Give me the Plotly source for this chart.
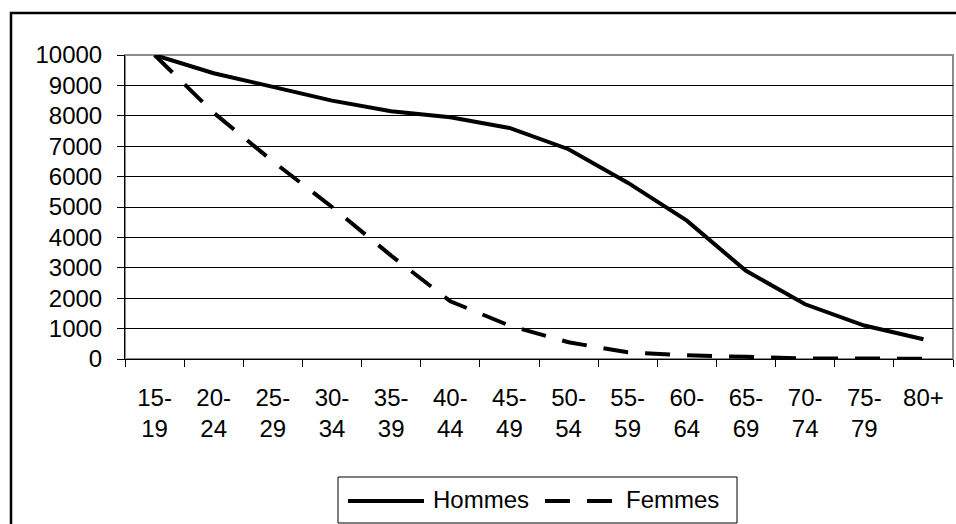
import plotly.graph_objects as go

# ---- data ----
categories = ["15-<br>19", "20-<br>24", "25-<br>29", "30-<br>34", "35-<br>39", "40-<br>44",
              "45-<br>49", "50-<br>54", "55-<br>59", "60-<br>64", "65-<br>69", "70-<br>74",
              "75-<br>79", "80+"]
hommes = [10000, 9400, 8950, 8500, 8150, 7950, 7600, 6900, 5800, 4550, 2900, 1800, 1100, 650]
femmes = [10000, 8100, 6500, 5000, 3400, 1900, 1100, 550, 220, 120, 70, 20, 15, 10]
series_names = ["Hommes", "Femmes"]
y_ticks = list(range(0, 10001, 1000))

# ---- layout constants (pixels) ----
W, H = 956, 524
L, R, T, B = 125, 3, 55, 165
PW, PH = W - L - R, H - T - B
FONT = "Liberation Sans, Arial, sans-serif"
FS = 24
DASH = "25px,17px"


def px(x):
    return (x - L) / PW


def py(y):
    return (H - B - y) / PH


fig = go.Figure()
fig.add_trace(go.Scatter(x=categories, y=hommes, name=series_names[0], mode="lines",
                         line=dict(color="black", width=4)))
fig.add_trace(go.Scatter(x=categories, y=femmes, name=series_names[1], mode="lines",
                         line=dict(color="black", width=4, dash=DASH)))

shapes = [
    # outer chart frame
    dict(type="rect", xref="paper", yref="paper", x0=px(11), x1=px(975), y0=py(545), y1=py(13),
         line=dict(color="black", width=2.5), fillcolor="rgba(0,0,0,0)", layer="below"),
    # plot area border (gray)
    dict(type="rect", xref="paper", yref="paper", x0=0, x1=1, y0=0, y1=1,
         line=dict(color="#8c8c8c", width=2), fillcolor="rgba(0,0,0,0)", layer="between"),
    # legend box
    dict(type="rect", xref="paper", yref="paper", x0=px(338), x1=px(737), y0=py(523), y1=py(477),
         line=dict(color="black", width=1), fillcolor="white", layer="above"),
    # legend samples
    dict(type="line", xref="paper", yref="paper", x0=px(348), x1=px(424), y0=py(501), y1=py(501),
         line=dict(color="black", width=4)),
    dict(type="line", xref="paper", yref="paper", x0=px(545), x1=px(617), y0=py(501), y1=py(501),
         line=dict(color="black", width=4, dash=DASH)),
]

annotations = [
    dict(xref="paper", yref="paper", x=px(431), y=py(499), text=series_names[0], showarrow=False,
         xanchor="left", yanchor="middle", font=dict(family=FONT, size=FS, color="black")),
    dict(xref="paper", yref="paper", x=px(624), y=py(499), text=series_names[1], showarrow=False,
         xanchor="left", yanchor="middle", font=dict(family=FONT, size=FS, color="black")),
]

fig.update_layout(
    width=W, height=H,
    margin=dict(l=L, r=R, t=T, b=B, pad=0),
    paper_bgcolor="white", plot_bgcolor="white",
    showlegend=False,
    font=dict(family=FONT, size=FS, color="black"),
    shapes=shapes, annotations=annotations,
)
fig.update_xaxes(
    type="category", range=[-0.5, len(categories) - 0.5],
    showgrid=False, zeroline=False,
    showline=True, linecolor="black", linewidth=1,
    ticks="outside", ticklen=7, tickcolor="black", tickwidth=1, tickson="boundaries",
    tickfont=dict(family=FONT, size=FS, color="black"),
    ticklabelstandoff=17,
)
fig.update_yaxes(
    range=[0, 10000], tickvals=y_ticks, ticktext=[str(v) for v in y_ticks],
    showgrid=True, gridcolor="black", gridwidth=1,
    zeroline=False,
    showline=True, linecolor="black", linewidth=1,
    ticks="outside", ticklen=7, tickcolor="black", tickwidth=1,
    tickfont=dict(family=FONT, size=FS, color="black"),
    ticklabelstandoff=10,
)

fig.write_html("out.html", config={"displayModeBar": False},
               post_script="document.body.style.margin='0px';")
